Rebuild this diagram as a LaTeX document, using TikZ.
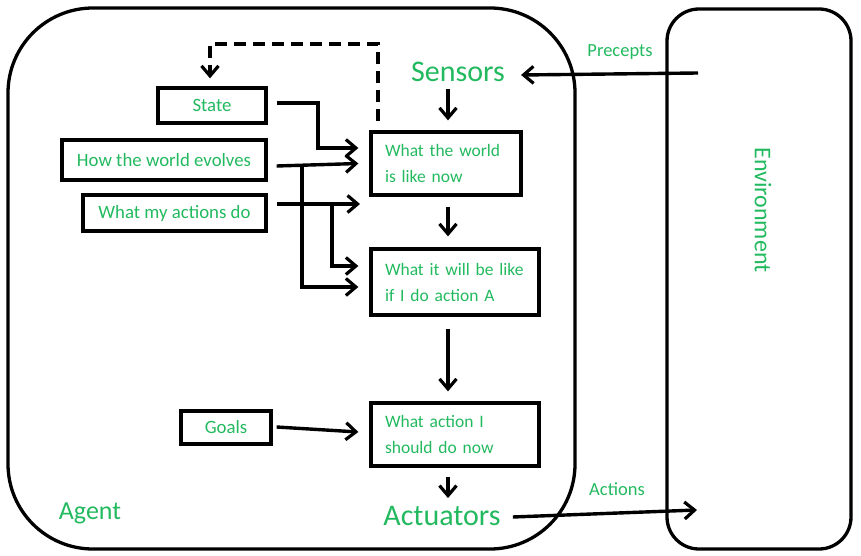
\documentclass[tikz,border=0pt]{standalone}
\usepackage{fontspec}
\setmainfont{Carlito}
\usetikzlibrary{arrows.meta}
\definecolor{tg}{RGB}{35,185,95}
\tikzset{
  box/.style={draw=black, line width=3.3pt, text=tg, font=\fontsize{18.8}{26}\selectfont, inner sep=0pt},
  mbox/.style={box, font=\fontsize{17.5}{26}\selectfont, align=left},
  conn/.style={line width=3.4pt, -{Straight Barb[length=10pt,width=17pt,line width=3.2pt]}},
  lbl/.style={text=tg, inner sep=0pt},
}
\begin{document}
\begin{tikzpicture}[x=1pt,y=-1pt]
\useasboundingbox (0,0) rectangle (861,556);
% Agent and environment outlines
\draw[line width=3.3pt, rounded corners=85pt] (8,8) rectangle (575,549);
\draw[line width=3.3pt, rounded corners=32pt] (667,9) rectangle (851,549);

% boxes
\node[box, minimum width=108pt, minimum height=35pt] (state) at (212,105.5) {State};
\node[box, minimum width=204pt, minimum height=40pt] (evolve) at (164,160) {How the world evolves};
\node[box, minimum width=183pt, minimum height=36pt] (myact) at (174.5,213) {What my actions do};
\node[mbox, minimum width=150pt, minimum height=63pt, text width=122pt] (now) at (446,163.5) {What the world\\is like now};
\node[mbox, minimum width=168pt, minimum height=66pt, text width=140pt] (will) at (455,282) {What it will be like\\if I do action A};
\node[mbox, minimum width=168pt, minimum height=63pt, text width=140pt] (act) at (455,434.5) {What action I\\should do now};
\node[box, minimum width=90pt, minimum height=33pt] (goals) at (226,427.5) {Goals};

% labels
\node[lbl, font=\fontsize{30}{34}\selectfont] (sensors) at (458,72) {Sensors};
\node[lbl, font=\fontsize{30}{34}\selectfont] (actuators) at (442,516) {Actuators};
\node[lbl, font=\fontsize{26}{30}\selectfont] (agent) at (90,513) {Agent};
\node[lbl, font=\fontsize{18.5}{22}\selectfont] (precepts) at (620,52) {Precepts};
\node[lbl, font=\fontsize{18.5}{22}\selectfont] (actions) at (617,489) {Actions};
\node[lbl, font=\fontsize{24}{28}\selectfont, rotate=-90] (env) at (763,210) {Environment};

% coordinates
\coordinate (cx) at (448,0);
\coordinate (pin) at (698,73);
\coordinate (pout) at (697,510);
\coordinate (mid) at (360,204);
\coordinate (dtop) at (378,44);
\coordinate (sbend) at (318,148);
\coordinate (ev1) at (302,165.5);
\coordinate (ma1) at (332,204);

% vertical flow
\draw[conn] ([yshift=-7pt]sensors.south -| cx) -- ([yshift=10pt]now.north -| cx);
\draw[conn] ([yshift=-10pt]now.south -| cx) -- ([yshift=11pt]will.north -| cx);
\draw[conn] ([yshift=-12pt]will.south -| cx) -- ([yshift=10pt]act.north -| cx);
\draw[conn] ([yshift=-9pt]act.south -| cx) -- ([yshift=8pt]actuators.north -| cx);

% percepts and actions
\draw[conn] (pin) -- ([xshift=16pt,yshift=-3pt]sensors.east);
\draw[conn] ([xshift=12pt,yshift=-1pt]actuators.east) -- (pout);

% dashed feedback
\draw[conn, dash pattern=on 12pt off 7pt] ([yshift=9pt]now.north -| dtop) -- (dtop) -| ([xshift=-2pt,yshift=8pt]state.north);

% inputs
\draw[conn] ([xshift=9pt,yshift=2.5pt]state.east) -| (sbend) -- ([xshift=-11pt,yshift=15.5pt]now.west);
\draw[conn] ([xshift=9pt,yshift=-6pt]evolve.east) -- ([xshift=-11pt,yshift=0pt]now.west);
\draw[conn] (ev1) |- ([xshift=-11pt,yshift=-5pt]will.west);
\draw[conn] ([xshift=9pt,yshift=9pt]myact.east) -- (mid);
\draw[conn] (ma1) |- ([xshift=-11pt,yshift=16pt]will.west);
\draw[conn] ([xshift=4pt,yshift=0.5pt]goals.east) -- ([xshift=-11pt,yshift=2.5pt]act.west);
\end{tikzpicture}
\end{document}
